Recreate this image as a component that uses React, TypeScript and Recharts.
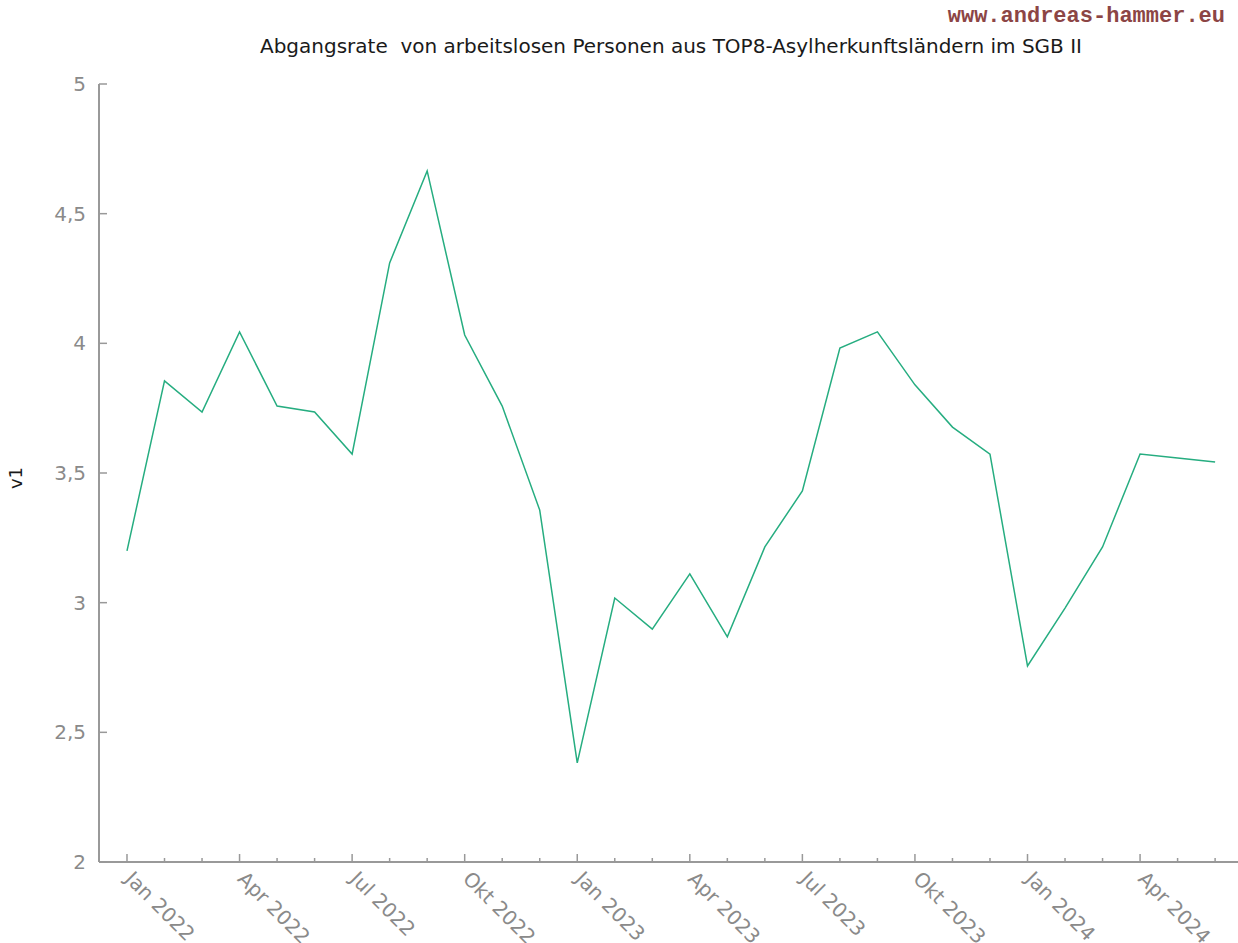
import { LineChart, Line, XAxis, YAxis } from 'recharts';

const months = [
  'Jan 2022', 'Feb 2022', 'Mär 2022', 'Apr 2022', 'Mai 2022', 'Jun 2022',
  'Jul 2022', 'Aug 2022', 'Sep 2022', 'Okt 2022', 'Nov 2022', 'Dez 2022',
  'Jan 2023', 'Feb 2023', 'Mär 2023', 'Apr 2023', 'Mai 2023', 'Jun 2023',
  'Jul 2023', 'Aug 2023', 'Sep 2023', 'Okt 2023', 'Nov 2023', 'Dez 2023',
  'Jan 2024', 'Feb 2024', 'Mär 2024', 'Apr 2024', 'Mai 2024', 'Jun 2024',
];

const v1 = [
  3.2, 3.855, 3.735, 4.044, 3.758, 3.735,
  3.573, 4.31, 4.665, 4.032, 3.758, 3.357,
  2.382, 3.018, 2.898, 3.111, 2.868, 3.215,
  3.431, 3.982, 4.044, 3.84, 3.677, 3.573,
  2.756, 2.979, 3.215, 3.573, 3.558, 3.542,
];

const yTicks = [2, 2.5, 3, 3.5, 4, 4.5, 5];
const monthIdx = months.map((_, i) => i);

const data = months.map((m, i) => ({ i, month: m, v1: v1[i] }));

const FONT = '"DejaVu Sans", Verdana, sans-serif';
const AXIS = '#999999';
const LABEL = '#8a8a8a';

const BottomTick = (props: any) => {
  const { x, y, payload } = props;
  const idx = payload.value;
  const major = idx % 3 === 0;
  const tx = x - 3;
  const ty = y + 18;
  return (
    <g>
      <line x1={x} x2={x} y1={y} y2={y - (major ? 8 : 4)} stroke={AXIS} strokeWidth={1.5} />
      {major && (
        <text
          x={tx}
          y={ty}
          transform={`rotate(45 ${tx} ${ty})`}
          textAnchor="start"
          fontFamily={FONT}
          fontSize={20}
          fill={LABEL}
        >
          {months[idx]}
        </text>
      )}
    </g>
  );
};

const TopTick = (props: any) => {
  const { x, y, payload } = props;
  const major = payload.value % 3 === 0;
  return <line x1={x} x2={x} y1={y} y2={y + (major ? 6 : 4)} stroke={AXIS} strokeWidth={1.2} />;
};

const LeftTick = (props: any) => {
  const { x, y, payload } = props;
  return (
    <g>
      <line x1={x} x2={x + 8} y1={y} y2={y} stroke={AXIS} strokeWidth={1.5} />
      <text x={x - 13} y={y} dy={7} textAnchor="end" fontFamily={FONT} fontSize={20} fill={LABEL}>
        {String(payload.value).replace('.', ',')}
      </text>
    </g>
  );
};

export default function App() {
  return (
    <div style={{ position: 'absolute', left: 0, top: 0, width: 1238, height: 943, background: '#fff' }}>
      <LineChart
        width={1238}
        height={943}
        data={data}
        margin={{ top: 84, right: 0, left: 0, bottom: 0 }}
      >
        <text x={1225} y={22} textAnchor="end" fontFamily='"Liberation Mono", "Courier New", monospace' fontSize={22} fontWeight="bold" fill="#8c4545">
          www.andreas-hammer.eu
        </text>
        <text x={671} y={53} textAnchor="middle" fontFamily={FONT} fontSize={20} fill="#1a1a1a" style={{ whiteSpace: 'pre' }}>
          Abgangsrate  von arbeitslosen Personen aus TOP8-Asylherkunftsländern im SGB II
        </text>
        <text x={22} y={478} textAnchor="middle" transform="rotate(-90 22 478)" fontFamily={FONT} fontSize={18} fill="#1a1a1a">
          v1
        </text>
        <XAxis
          xAxisId="bottom"
          dataKey="i"
          type="number"
          domain={[-0.746, 29.61]}
          ticks={monthIdx}
          interval={0}
          height={81}
          tickSize={0}
          tickMargin={0}
          tickLine={false}
          axisLine={{ stroke: AXIS, strokeWidth: 2 }}
          tick={<BottomTick />}
        />
        <XAxis
          xAxisId="top"
          orientation="top"
          dataKey="i"
          type="number"
          domain={[-0.746, 29.61]}
          ticks={monthIdx}
          interval={0}
          height={0}
          tickSize={0}
          tickMargin={0}
          tickLine={false}
          axisLine={false}
          tick={<TopTick />}
        />
        <YAxis
          domain={[2, 5]}
          ticks={yTicks}
          interval={0}
          width={99}
          tickSize={0}
          tickMargin={0}
          tickLine={false}
          axisLine={{ stroke: AXIS, strokeWidth: 2 }}
          tick={<LeftTick />}
        />
        <Line
          xAxisId="bottom"
          dataKey="v1"
          type="linear"
          stroke="#26ad80"
          strokeWidth={1.5}
          dot={false}
          activeDot={false}
          isAnimationActive={false}
        />
      </LineChart>
    </div>
  );
}
